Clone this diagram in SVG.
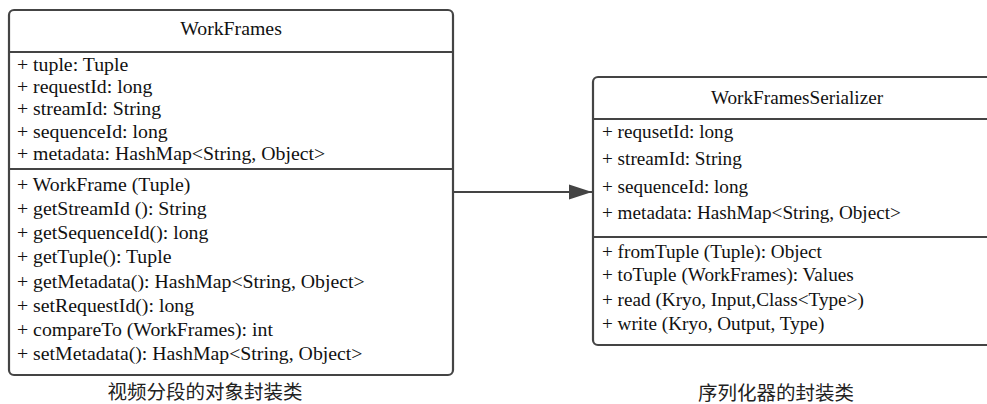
<svg xmlns="http://www.w3.org/2000/svg" width="987" height="404" viewBox="0 0 987 404">
<style>
.box{fill:#fff;stroke:#444;stroke-width:2.2}
.div{stroke:#444;stroke-width:2.2}
.t{font-family:"Liberation Serif","Times New Roman",serif;fill:#111}
.l{font-size:19.8px}
.r{font-size:19.2px}
.c{font-family:"Liberation Sans","Noto Sans CJK SC",sans-serif;font-size:19.5px;fill:#222;text-anchor:middle}
.edge{stroke:#444;stroke-width:2.2;fill:none}
</style>
<defs>
<marker id="arr" markerWidth="24" markerHeight="16" refX="23" refY="8" orient="auto" markerUnits="userSpaceOnUse">
<path d="M0,0.5 L23,8 L0,15.5 Z" fill="#444"/>
</marker>
</defs>
<g id="connectors">
<line class="edge" x1="453" y1="192" x2="592" y2="192" marker-end="url(#arr)"/>
</g>
<g id="WorkFrames">
<rect class="box" x="9" y="10" width="444" height="365" rx="5"/>
<line class="div" x1="9" y1="52" x2="453" y2="52"/>
<line class="div" x1="9" y1="169" x2="453" y2="169"/>
<text class="t l" x="231" y="35" text-anchor="middle">WorkFrames</text>
<text class="t l" x="17" y="71">+ tuple: Tuple</text>
<text class="t l" x="17" y="93">+ requestId: long</text>
<text class="t l" x="17" y="115">+ streamId: String</text>
<text class="t l" x="17" y="138">+ sequenceId: long</text>
<text class="t l" x="17" y="160">+ metadata: HashMap&lt;String, Object&gt;</text>
<text class="t l" x="17" y="191">+ WorkFrame (Tuple)</text>
<text class="t l" x="17" y="215">+ getStreamId (): String</text>
<text class="t l" x="17" y="239">+ getSequenceId(): long</text>
<text class="t l" x="17" y="263">+ getTuple(): Tuple</text>
<text class="t l" x="17" y="287.5">+ getMetadata(): HashMap&lt;String, Object&gt;</text>
<text class="t l" x="17" y="311.5">+ setRequestId(): long</text>
<text class="t l" x="17" y="335.5">+ compareTo (WorkFrames): int</text>
<text class="t l" x="17" y="360">+ setMetadata(): HashMap&lt;String, Object&gt;</text>
</g>
<g id="WorkFramesSerializer">
<rect class="box" x="593" y="77" width="408" height="268" rx="5"/>
<line class="div" x1="593" y1="119" x2="1001" y2="119"/>
<line class="div" x1="593" y1="237" x2="1001" y2="237"/>
<text class="t r" x="797" y="104" text-anchor="middle">WorkFramesSerializer</text>
<text class="t r" x="602" y="138">+ requsetId: long</text>
<text class="t r" x="602" y="165">+ streamId: String</text>
<text class="t r" x="602" y="193">+ sequenceId: long</text>
<text class="t r" x="602" y="219">+ metadata: HashMap&lt;String, Object&gt;</text>
<text class="t r" x="602" y="258">+ fromTuple (Tuple): Object</text>
<text class="t r" x="602" y="281">+ toTuple (WorkFrames): Values</text>
<text class="t r" x="602" y="306">+ read (Kryo, Input,Class&lt;Type&gt;)</text>
<text class="t r" x="602" y="330">+ write (Kryo, Output, Type)</text>
</g>
<g id="captions">
<text class="c" x="205" y="399">视频分段的对象封装类</text>
<text class="c" x="776" y="400">序列化器的封装类</text>
</g>
</svg>
